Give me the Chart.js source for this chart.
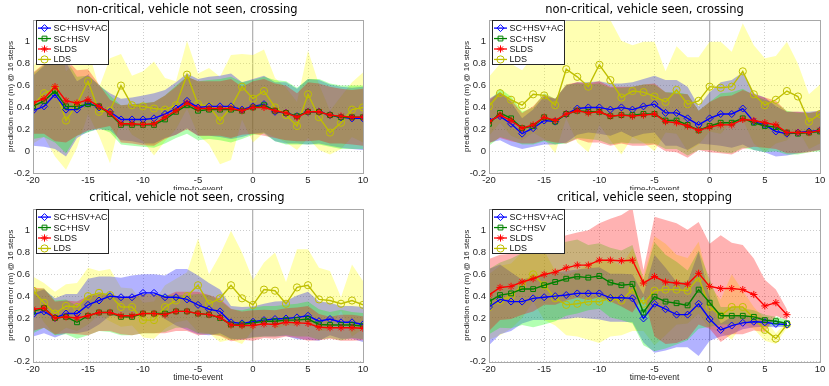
<!DOCTYPE html>
<html>
<head>
<meta charset="utf-8">
<script src="https://cdn.jsdelivr.net/npm/chart.js@4.4.0/dist/chart.umd.min.js"></script>
<style>
  html, body { margin: 0; padding: 0; background: #fff; }
  body { width: 829px; height: 386px; position: relative; overflow: hidden; }
  .panel { position: absolute; background: #fff; }
  .panel canvas { display: block; }
</style>
</head>
<body>
<div class="panel" style="left:0;top:0"><canvas id="c1" width="372" height="196"></canvas></div>
<div class="panel" style="left:456px;top:0"><canvas id="c2" width="373" height="196"></canvas></div>
<div class="panel" style="left:0;top:190px"><canvas id="c3" width="372" height="196"></canvas></div>
<div class="panel" style="left:456px;top:190px"><canvas id="c4" width="373" height="196"></canvas></div>
<script>
// time axis (shared)
const timeToEvent = [-20, -19, -18, -17, -16, -15, -14, -13, -12, -11, -10, -9, -8, -7, -6, -5, -4, -3, -2, -1,
  0, 1, 2, 3, 4, 5, 6, 7, 8, 9, 10];
const seriesNames = ['SC+HSV+AC', 'SC+HSV', 'SLDS', 'LDS'];
const panelTitles = [
  'non-critical, vehicle not seen, crossing',
  'non-critical, vehicle seen, crossing',
  'critical, vehicle not seen, crossing',
  'critical, vehicle seen, stopping'
];

// panel 1: non-critical, vehicle not seen, crossing
const p1AcMean = [0.37, 0.41, 0.52, 0.38, 0.38, 0.44, 0.40, 0.36, 0.29, 0.29, 0.29, 0.30, 0.34, 0.39, 0.46, 0.40, 0.41, 0.41, 0.41, 0.38, 0.41, 0.43, 0.36, 0.35, 0.32, 0.36, 0.36, 0.33, 0.31, 0.30, 0.30];
const p1AcStd = [0.32, 0.37, 0.50, 0.43, 0.26, 0.26, 0.20, 0.17, 0.19, 0.20, 0.22, 0.23, 0.22, 0.24, 0.25, 0.26, 0.27, 0.28, 0.30, 0.25, 0.25, 0.26, 0.27, 0.28, 0.25, 0.30, 0.29, 0.28, 0.28, 0.28, 0.29];
const p1HsvMean = [0.41, 0.46, 0.55, 0.41, 0.41, 0.43, 0.41, 0.34, 0.24, 0.24, 0.24, 0.24, 0.29, 0.36, 0.42, 0.37, 0.38, 0.38, 0.38, 0.37, 0.40, 0.42, 0.37, 0.35, 0.32, 0.36, 0.36, 0.33, 0.31, 0.31, 0.31];
const p1HsvStd = [0.30, 0.33, 0.47, 0.43, 0.27, 0.26, 0.20, 0.17, 0.18, 0.19, 0.20, 0.21, 0.22, 0.24, 0.26, 0.27, 0.27, 0.28, 0.30, 0.26, 0.25, 0.26, 0.28, 0.29, 0.26, 0.30, 0.30, 0.29, 0.29, 0.29, 0.29];
const p1SldsMean = [0.44, 0.48, 0.59, 0.46, 0.44, 0.47, 0.41, 0.35, 0.25, 0.25, 0.245, 0.25, 0.31, 0.37, 0.44, 0.39, 0.39, 0.39, 0.39, 0.37, 0.40, 0.40, 0.37, 0.35, 0.31, 0.36, 0.36, 0.33, 0.32, 0.31, 0.31];
const p1SldsStd = [0.28, 0.32, 0.50, 0.38, 0.30, 0.28, 0.20, 0.12, 0.17, 0.18, 0.19, 0.20, 0.20, 0.22, 0.24, 0.25, 0.25, 0.25, 0.27, 0.22, 0.24, 0.26, 0.25, 0.25, 0.22, 0.27, 0.26, 0.26, 0.25, 0.25, 0.26];
const p1LdsMean = [0.42, 0.53, 0.57, 0.28, 0.43, 0.64, 0.36, 0.37, 0.60, 0.42, 0.41, 0.39, 0.38, 0.42, 0.70, 0.43, 0.41, 0.28, 0.40, 0.59, 0.48, 0.55, 0.40, 0.33, 0.23, 0.52, 0.31, 0.17, 0.26, 0.38, 0.40];
const p1LdsStd = [0.35, 0.40, 0.62, 0.45, 0.40, 0.30, 0.22, 0.48, 0.29, 0.27, 0.32, 0.43, 0.29, 0.22, 0.31, 0.28, 0.35, 0.40, 0.48, 0.30, 0.40, 0.38, 0.27, 0.25, 0.22, 0.40, 0.30, 0.20, 0.24, 0.25, 0.32];

// panel 2: non-critical, vehicle seen, crossing
const p2AcMean = [0.28, 0.32, 0.25, 0.16, 0.21, 0.28, 0.27, 0.34, 0.39, 0.40, 0.40, 0.38, 0.40, 0.38, 0.41, 0.43, 0.35, 0.35, 0.30, 0.24, 0.30, 0.34, 0.34, 0.39, 0.27, 0.24, 0.18, 0.16, 0.17, 0.18, 0.19];
const p2AcStd = [0.20, 0.22, 0.20, 0.14, 0.17, 0.22, 0.21, 0.26, 0.24, 0.23, 0.24, 0.24, 0.22, 0.25, 0.25, 0.26, 0.30, 0.30, 0.29, 0.17, 0.24, 0.29, 0.31, 0.33, 0.26, 0.25, 0.23, 0.20, 0.19, 0.18, 0.18];
const p2HsvMean = [0.25, 0.35, 0.30, 0.21, 0.23, 0.31, 0.27, 0.34, 0.37, 0.36, 0.36, 0.32, 0.33, 0.33, 0.34, 0.34, 0.28, 0.28, 0.24, 0.19, 0.23, 0.26, 0.26, 0.30, 0.26, 0.23, 0.22, 0.17, 0.16, 0.17, 0.18];
const p2HsvStd = [0.20, 0.22, 0.20, 0.15, 0.17, 0.22, 0.21, 0.27, 0.25, 0.25, 0.26, 0.26, 0.25, 0.26, 0.27, 0.27, 0.26, 0.26, 0.28, 0.18, 0.22, 0.27, 0.28, 0.27, 0.25, 0.24, 0.22, 0.20, 0.19, 0.18, 0.18];
const p2SldsMean = [0.27, 0.33, 0.28, 0.21, 0.24, 0.31, 0.28, 0.34, 0.37, 0.35, 0.36, 0.32, 0.33, 0.32, 0.33, 0.34, 0.27, 0.26, 0.23, 0.19, 0.22, 0.24, 0.24, 0.29, 0.28, 0.26, 0.24, 0.17, 0.17, 0.17, 0.19];
const p2SldsStd = [0.20, 0.21, 0.19, 0.14, 0.17, 0.21, 0.20, 0.27, 0.26, 0.27, 0.28, 0.27, 0.26, 0.27, 0.28, 0.28, 0.27, 0.27, 0.29, 0.18, 0.23, 0.26, 0.27, 0.27, 0.24, 0.23, 0.22, 0.19, 0.19, 0.18, 0.18];
const p2LdsMean = [0.41, 0.53, 0.47, 0.42, 0.52, 0.51, 0.42, 0.75, 0.68, 0.59, 0.79, 0.65, 0.49, 0.55, 0.54, 0.50, 0.45, 0.56, 0.43, 0.46, 0.59, 0.58, 0.59, 0.73, 0.52, 0.42, 0.47, 0.55, 0.50, 0.27, 0.34];
const p2LdsStd = [0.27, 0.27, 0.33, 0.32, 0.35, 0.40, 0.44, 0.45, 0.60, 0.60, 0.55, 0.55, 0.52, 0.42, 0.46, 0.50, 0.28, 0.40, 0.43, 0.40, 0.41, 0.42, 0.32, 0.44, 0.45, 0.43, 0.40, 0.45, 0.30, 0.25, 0.27];

// panel 3: critical, vehicle not seen, crossing
const p3AcMean = [0.23, 0.26, 0.20, 0.24, 0.24, 0.32, 0.36, 0.40, 0.39, 0.39, 0.43, 0.43, 0.39, 0.39, 0.37, 0.32, 0.28, 0.26, 0.16, 0.15, 0.165, 0.18, 0.19, 0.195, 0.205, 0.22, 0.17, 0.19, 0.16, 0.16, 0.14];
const p3AcStd = [0.20, 0.20, 0.18, 0.18, 0.18, 0.24, 0.22, 0.18, 0.18, 0.20, 0.17, 0.17, 0.20, 0.26, 0.28, 0.27, 0.24, 0.20, 0.15, 0.15, 0.14, 0.15, 0.16, 0.16, 0.20, 0.22, 0.18, 0.15, 0.15, 0.15, 0.16];
const p3HsvMean = [0.26, 0.29, 0.20, 0.21, 0.16, 0.22, 0.25, 0.25, 0.21, 0.21, 0.24, 0.24, 0.24, 0.26, 0.26, 0.24, 0.23, 0.20, 0.14, 0.14, 0.155, 0.17, 0.17, 0.18, 0.18, 0.19, 0.14, 0.135, 0.135, 0.135, 0.125];
const p3HsvStd = [0.20, 0.18, 0.16, 0.16, 0.15, 0.18, 0.17, 0.18, 0.17, 0.17, 0.18, 0.18, 0.17, 0.15, 0.15, 0.18, 0.18, 0.16, 0.14, 0.13, 0.14, 0.14, 0.14, 0.14, 0.15, 0.16, 0.14, 0.12, 0.14, 0.12, 0.12];
const p3SldsMean = [0.28, 0.29, 0.20, 0.21, 0.20, 0.22, 0.25, 0.25, 0.22, 0.22, 0.24, 0.24, 0.23, 0.26, 0.26, 0.24, 0.23, 0.205, 0.135, 0.13, 0.13, 0.145, 0.14, 0.16, 0.155, 0.15, 0.115, 0.11, 0.11, 0.11, 0.105];
const p3SldsStd = [0.20, 0.18, 0.15, 0.15, 0.15, 0.18, 0.17, 0.17, 0.17, 0.18, 0.18, 0.18, 0.17, 0.18, 0.18, 0.20, 0.18, 0.17, 0.15, 0.13, 0.14, 0.13, 0.13, 0.13, 0.14, 0.16, 0.12, 0.10, 0.12, 0.12, 0.11];
const p3LdsMean = [0.45, 0.34, 0.24, 0.31, 0.30, 0.40, 0.43, 0.41, 0.30, 0.30, 0.18, 0.18, 0.30, 0.36, 0.40, 0.50, 0.33, 0.38, 0.50, 0.38, 0.32, 0.46, 0.45, 0.33, 0.48, 0.50, 0.37, 0.36, 0.33, 0.36, 0.32];
const p3LdsStd = [0.13, 0.18, 0.20, 0.20, 0.22, 0.26, 0.20, 0.24, 0.18, 0.17, 0.16, 0.17, 0.20, 0.20, 0.22, 0.43, 0.27, 0.40, 0.50, 0.42, 0.23, 0.25, 0.35, 0.20, 0.35, 0.33, 0.29, 0.27, 0.06, 0.33, 0.22];

// panel 4: critical, vehicle seen, stopping (data ends at t = 7)
const p4AcMean = [0.30, 0.37, 0.35, 0.35, 0.38, 0.39, 0.40, 0.41, 0.425, 0.425, 0.425, 0.385, 0.385, 0.38, 0.195, 0.33, 0.28, 0.23, 0.23, 0.33, 0.19, 0.09, 0.13, 0.155, 0.165, 0.16, 0.145, 0.14];
const p4AcStd = [0.35, 0.32, 0.27, 0.20, 0.20, 0.21, 0.22, 0.22, 0.22, 0.23, 0.24, 0.22, 0.22, 0.22, 0.22, 0.45, 0.38, 0.30, 0.30, 0.48, 0.20, 0.06, 0.08, 0.06, 0.05, 0.04, 0.03, 0.02];
const p4HsvMean = [0.35, 0.41, 0.425, 0.465, 0.465, 0.50, 0.53, 0.56, 0.58, 0.57, 0.585, 0.525, 0.50, 0.51, 0.25, 0.395, 0.35, 0.335, 0.315, 0.46, 0.34, 0.22, 0.22, 0.22, 0.21, 0.18, 0.17, 0.15];
const p4HsvStd = [0.30, 0.30, 0.32, 0.33, 0.35, 0.36, 0.36, 0.34, 0.34, 0.30, 0.30, 0.32, 0.32, 0.36, 0.30, 0.50, 0.43, 0.38, 0.32, 0.36, 0.22, 0.08, 0.08, 0.07, 0.06, 0.05, 0.04, 0.03];
const p4SldsMean = [0.41, 0.48, 0.49, 0.53, 0.56, 0.60, 0.62, 0.66, 0.685, 0.685, 0.73, 0.73, 0.725, 0.73, 0.52, 0.58, 0.53, 0.52, 0.51, 0.61, 0.49, 0.47, 0.47, 0.46, 0.415, 0.31, 0.34, 0.23];
const p4SldsStd = [0.33, 0.30, 0.30, 0.30, 0.30, 0.28, 0.30, 0.30, 0.30, 0.32, 0.34, 0.38, 0.42, 0.48, 0.12, 0.55, 0.57, 0.55, 0.50, 0.47, 0.39, 0.49, 0.42, 0.41, 0.33, 0.24, 0.12, 0.05];
const p4LdsMean = [0.30, 0.36, 0.40, 0.50, 0.60, 0.50, 0.38, 0.32, 0.33, 0.35, 0.35, 0.38, 0.36, 0.46, 0.33, 0.45, 0.46, 0.46, 0.45, 0.57, 0.30, 0.22, 0.30, 0.30, 0.20, 0.09, 0.01, 0.14];
const p4LdsStd = [0.30, 0.32, 0.30, 0.30, 0.25, 0.32, 0.25, 0.28, 0.30, 0.35, 0.38, 0.35, 0.32, 0.38, 0.25, 0.50, 0.42, 0.32, 0.30, 0.33, 0.20, 0.15, 0.30, 0.15, 0.10, 0.10, 0.05, 0.03];

const panelSeries = [
  [[p1AcMean, p1AcStd], [p1HsvMean, p1HsvStd], [p1SldsMean, p1SldsStd], [p1LdsMean, p1LdsStd]],
  [[p2AcMean, p2AcStd], [p2HsvMean, p2HsvStd], [p2SldsMean, p2SldsStd], [p2LdsMean, p2LdsStd]],
  [[p3AcMean, p3AcStd], [p3HsvMean, p3HsvStd], [p3SldsMean, p3SldsStd], [p3LdsMean, p3LdsStd]],
  [[p4AcMean, p4AcStd], [p4HsvMean, p4HsvStd], [p4SldsMean, p4SldsStd], [p4LdsMean, p4LdsStd]]
];

const STYLES = [
  {line: '#0000ff', fill: 'rgba(0,0,255,0.3)', point: 'rectRot', radius: 3.5},
  {line: '#008000', fill: 'rgba(0,255,0,0.3)', point: 'rect', radius: 3.4},
  {line: '#ff0000', fill: 'rgba(255,0,0,0.3)', point: 'star', radius: 3.6},
  {line: '#bfbf00', fill: 'rgba(255,255,0,0.3)', point: 'circle', radius: 3.6}
];
// bottom -> top
const BAND_ORDER = [3, 0, 1, 2];
const LINE_ORDER = [3, 0, 1, 2];

// canvas-space layout of each panel
const LAYOUT = [
  {id: 'c1', top: 20, bottom: 173, right: 363, titleX: 187, titleY: 10, xTitlePad: 1},
  {id: 'c2', top: 20, bottom: 173, right: 364, titleX: 188.5, titleY: 10, xTitlePad: 1},
  {id: 'c3', top: 19, bottom: 171.5, right: 363, titleX: 187, titleY: 8.5, xTitlePad: 3},
  {id: 'c4', top: 19, bottom: 171.5, right: 364, titleX: 188.5, titleY: 8.5, xTitlePad: 3}
];

const TICK_FONT = {family: '"Liberation Sans", Arial, sans-serif', size: 9.5};

function pts(arr, f) {
  return arr.map((v, i) => ({x: timeToEvent[i], y: f(v, i)}));
}

function drawMarker(ctx, style, x, y) {
  if (Chart.helpers && Chart.helpers.drawPoint) {
    Chart.helpers.drawPoint(ctx, {pointStyle: style.point, radius: style.radius, borderWidth: 1, rotation: 0}, x, y);
  }
}

const decor = {
  id: 'decor',
  afterDraw(chart, args, opts) {
    const {ctx, chartArea: a} = chart;
    ctx.save();
    // axes box
    ctx.strokeStyle = '#a8a8a8';
    ctx.lineWidth = 1;
    ctx.strokeRect(Math.round(a.left) + 0.5, Math.round(a.top) + 0.5,
      Math.round(a.right - a.left), Math.round(a.bottom - a.top));

    // legend
    const lx = Math.round(a.left) + 3.5, ly = Math.round(a.top) + 0.5;
    ctx.fillStyle = '#fff';
    ctx.fillRect(lx, ly, 72, 44);
    ctx.strokeStyle = '#262626';
    ctx.strokeRect(lx, ly, 72, 44);
    ctx.font = '9px "Liberation Sans", Arial, sans-serif';
    ctx.textBaseline = 'middle';
    ctx.textAlign = 'left';
    seriesNames.forEach((name, i) => {
      const st = STYLES[i];
      const y = ly + 7.6 + i * 10.45;
      ctx.strokeStyle = st.line;
      ctx.lineWidth = 1.3;
      ctx.beginPath();
      ctx.moveTo(lx + 1.5, y);
      ctx.lineTo(lx + 14.5, y);
      ctx.stroke();
      ctx.fillStyle = 'rgba(0,0,0,0)';
      ctx.lineWidth = 1;
      drawMarker(ctx, st, lx + 8, y);
      ctx.fillStyle = '#111';
      ctx.fillText(name, lx + 17, y + 0.5);
    });

    // title
    ctx.font = '11.5px "DejaVu Sans", sans-serif';
    ctx.fillStyle = '#000';
    ctx.textAlign = 'center';
    ctx.fillText(opts.title, opts.titleX, opts.titleY);
    ctx.restore();
  }
};

LAYOUT.forEach((lay, p) => {
  const canvas = document.getElementById(lay.id);
  const datasets = [];
  // lines, top-most first (chart.js draws index 0 last)
  LINE_ORDER.slice().reverse().forEach(k => {
    const st = STYLES[k];
    datasets.push({
      data: pts(panelSeries[p][k][0], v => v),
      borderColor: st.line,
      borderWidth: 1.4,
      backgroundColor: 'rgba(0,0,0,0)',
      pointStyle: st.point,
      pointRadius: st.radius,
      pointBorderWidth: 1,
      pointBorderColor: st.line,
      pointBackgroundColor: 'rgba(0,0,0,0)',
      fill: false
    });
  });
  BAND_ORDER.slice().reverse().forEach(k => {
    const st = STYLES[k];
    const [mean, sd] = panelSeries[p][k];
    datasets.push({
      data: pts(mean, (v, i) => v + sd[i]),
      borderWidth: 0,
      borderColor: 'rgba(0,0,0,0)',
      backgroundColor: st.fill,
      pointRadius: 0,
      fill: '+1'
    });
    datasets.push({
      data: pts(mean, (v, i) => v - sd[i]),
      borderWidth: 0,
      borderColor: 'rgba(0,0,0,0)',
      pointRadius: 0,
      fill: false
    });
  });

  new Chart(canvas.getContext('2d'), {
    type: 'line',
    data: {datasets},
    plugins: [decor],
    options: {
      responsive: false,
      animation: false,
      events: [],
      layout: {padding: {top: lay.top, right: canvas.width - lay.right, left: 0, bottom: 0}},
      elements: {line: {tension: 0}},
      plugins: {
        legend: {display: false},
        tooltip: {enabled: false},
        filler: {drawTime: 'beforeDatasetsDraw', propagate: false},
        decor: {title: panelTitles[p], titleX: lay.titleX, titleY: lay.titleY}
      },
      scales: {
        x: {
          type: 'linear',
          min: -20,
          max: 10,
          afterFit: s => { s.height = canvas.height - lay.bottom; },
          ticks: {stepSize: 5, color: '#262626', font: TICK_FONT, padding: 2, maxRotation: 0},
          grid: {
            drawTicks: false,
            color: ctx => ctx.tick && ctx.tick.value === 0 ? '#b4b4b4' : '#cdcdcd',
            lineWidth: ctx => ctx.tick && ctx.tick.value === 0 ? 1.3 : 1
          },
          border: {display: false, dash: ctx => ctx.tick && ctx.tick.value === 0 ? [] : [1, 2]},
          title: {
            display: true,
            text: 'time-to-event',
            color: '#262626',
            font: {family: '"Liberation Sans", Arial, sans-serif', size: 8.5},
            padding: {top: 0, bottom: lay.xTitlePad}
          }
        },
        y: {
          min: -0.2,
          max: 1.2,
          afterFit: s => { s.width = 33; },
          ticks: {
            stepSize: 0.2,
            color: '#262626',
            font: TICK_FONT,
            padding: 3,
            callback: v => Math.abs(v - 1.2) < 1e-6 ? '' : String(Number(v.toFixed(1)))
          },
          grid: {drawTicks: false, color: '#cdcdcd'},
          border: {display: false, dash: [1, 2]},
          title: {
            display: true,
            text: 'prediction error (m) @ 16 steps',
            color: '#262626',
            font: {family: '"Liberation Sans", Arial, sans-serif', size: 8},
            padding: {top: 6, bottom: 0}
          }
        }
      }
    }
  });
});
</script>
</body>
</html>
